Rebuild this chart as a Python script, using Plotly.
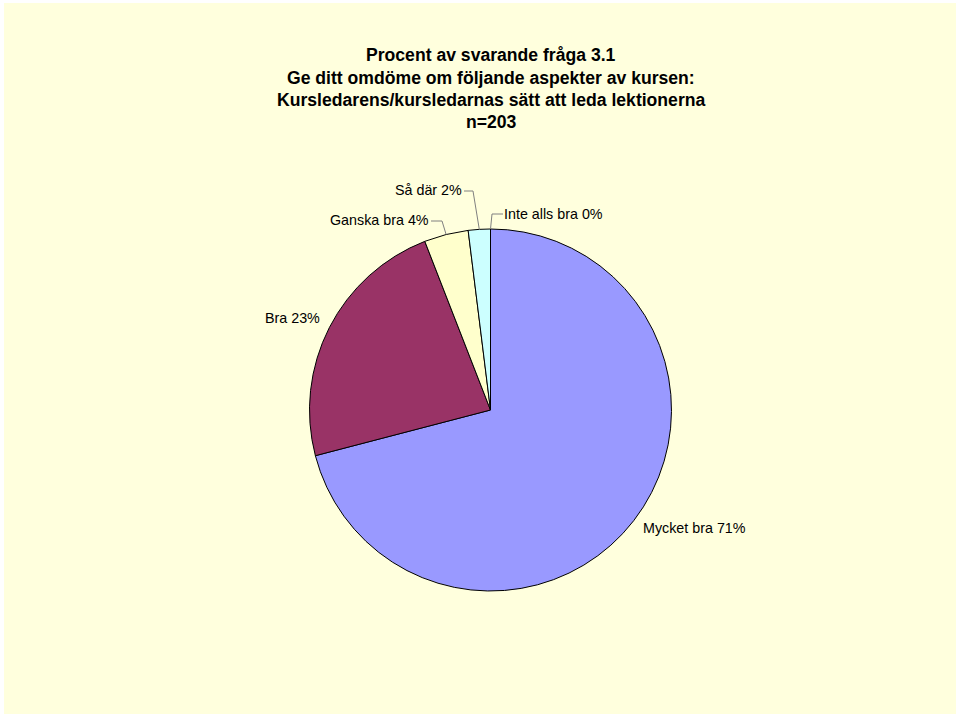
import math
import plotly.graph_objects as go

# ---- data ----
categories = ["Mycket bra", "Bra", "Ganska bra", "Så där", "Inte alls bra"]
counts = [144, 47, 8, 4, 0]
colors = ["#9999FF", "#993366", "#FFFFCC", "#CCFFFF", "#660066"]
title_lines = [
    "Procent av svarande fråga 3.1",
    "Ge ditt omdöme om följande aspekter av kursen:",
    "Kursledarens/kursledarnas sätt att leda lektionerna",
    "n=203",
]

# ---- layout constants (pixels) ----
W, H = 960, 717
CX, CY, R = 490.5, 410.0, 181.0
title_y = [55, 78, 100, 122]
# label centre positions, and leader-line elbow (None = no leader)
label_pos = [(694, 528), (292, 318), (379, 220), (428, 190), (553, 214)]
label_elbow = [None, None, [(431, 221), (442, 221)], [(464, 191), (473, 191)],
               [(503, 214), (492, 214)]]


def px(x):
    return x / W


def py(y):
    return 1 - y / H


total = sum(counts)
pcts = [c / total for c in counts]

fig = go.Figure(go.Pie(
    labels=categories, values=counts, sort=False, direction="clockwise",
    rotation=0, textinfo="none", hoverinfo="label+percent",
    marker=dict(colors=colors, line=dict(color="black", width=1)),
    domain=dict(x=[px(CX - R), px(CX + R)], y=[py(CY + R), py(CY - R)]),
    showlegend=False,
))

annotations = []
for i, t in enumerate(title_lines):
    annotations.append(dict(
        text="<b>" + t + "</b>", x=px(491), y=py(title_y[i]),
        xref="paper", yref="paper", showarrow=False, xanchor="center", yanchor="middle",
        font=dict(family="Liberation Sans, Arial", size=17.6, color="black")))

shapes = [dict(type="rect", xref="paper", yref="paper", x0=px(4), x1=px(956),
               y0=py(714), y1=py(3), fillcolor="#FFFFDD", line=dict(width=0),
               layer="below")]

cum = 0.0
for i, (cat, p) in enumerate(zip(categories, pcts)):
    mid = (cum + p / 2) * 2 * math.pi
    cum += p
    ax = CX + R * math.sin(mid)
    ay = CY - R * math.cos(mid)
    lx, ly = label_pos[i]
    annotations.append(dict(
        text=f"{cat} {round(p * 100):.0f}%", x=px(lx), y=py(ly),
        xref="paper", yref="paper", showarrow=False, xanchor="center", yanchor="middle",
        font=dict(family="Liberation Sans, Arial", size=14.3, color="black")))
    if label_elbow[i]:
        pts = label_elbow[i] + [(ax, ay)]
        path = "M " + " L ".join(f"{px(x):.5f},{py(y):.5f}" for x, y in pts)
        shapes.append(dict(type="path", xref="paper", yref="paper", path=path,
                           line=dict(color="#808080", width=1)))

fig.update_layout(
    width=W, height=H, margin=dict(l=0, r=0, t=0, b=0),
    paper_bgcolor="white", plot_bgcolor="white",
    annotations=annotations, shapes=shapes,
)

fig.write_html("out.html", config={"displayModeBar": False},
               post_script="document.body.style.margin='0';document.body.style.overflow='hidden';")
